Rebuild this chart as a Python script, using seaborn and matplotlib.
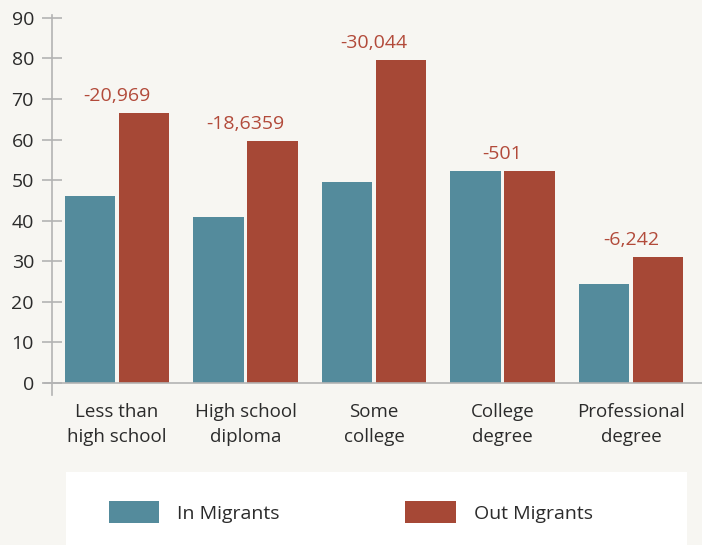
import matplotlib
matplotlib.use("Agg")
import matplotlib.pyplot as plt
import seaborn as sns
import pandas as pd
from matplotlib.patches import Rectangle

# --- data -------------------------------------------------------------
categories = ["Less than\nhigh school", "High school\ndiploma", "Some\ncollege",
              "College\ndegree", "Professional\ndegree"]
in_migrants = [46.0, 41.0, 49.6, 52.3, 24.5]
out_migrants = [66.6, 59.7, 79.5, 52.3, 31.0]
net_labels = ["-20,969", "-18,6359", "-30,044", "-501", "-6,242"]
series_names = ["In Migrants", "Out Migrants"]
y_ticks = [0, 10, 20, 30, 40, 50, 60, 70, 80, 90]

# --- style ------------------------------------------------------------
bg = "#F7F6F2"
teal = "#548B9C"
brick = "#A64836"
label_red = "#B24A3A"
text_dark = "#2B2B2B"
axis_grey = "#B3B3B3"

sns.set_theme(style="white")
plt.rcParams["font.family"] = ["Open Sans", "DejaVu Sans"]

df = pd.DataFrame({
    "category": categories * 2,
    "value": in_migrants + out_migrants,
    "series": [series_names[0]] * len(categories) + [series_names[1]] * len(categories),
})

fig = plt.figure(figsize=(7.02, 5.45), dpi=100, facecolor=bg)
ax = fig.add_axes([52 / 702, 1 - 395 / 545, 1 - 52 / 702, (395 - 15) / 545])
ax.set_facecolor(bg)

sns.barplot(data=df, x="category", y="value", hue="series",
            palette=[teal, brick], width=0.84, gap=0.06, linewidth=0,
            saturation=1, ax=ax, order=categories, hue_order=series_names)

ax.set_xlim(-0.506, 4.553)
ax.set_ylim(-2.96, 90.7)
ax.set_yticks(y_ticks)
ax.set_xlabel("")
ax.set_ylabel("")

for side in ["top", "right", "bottom"]:
    ax.spines[side].set_visible(False)
ax.spines["left"].set_color(axis_grey)
ax.spines["left"].set_linewidth(1.2)

# baseline at zero, poking slightly left of the y axis
ax.plot([-0.012, 1.0], [0, 0], transform=ax.get_yaxis_transform(),
        color=axis_grey, lw=1.2, clip_on=False, zorder=3)

ax.tick_params(axis="y", left=True, direction="inout", length=14, width=1.2,
               color=axis_grey, pad=6, labelsize=14, labelcolor=text_dark)
ax.tick_params(axis="x", length=0, pad=6, labelsize=13.5, labelcolor=text_dark)
for t in ax.get_xticklabels():
    t.set_linespacing(1.45)

# net migration labels above each pair
for i, lab in enumerate(net_labels):
    top = max(in_migrants[i], out_migrants[i])
    ax.text(i, top + 2.0, lab, ha="center", va="bottom",
            fontsize=14, color=label_red)

# legend on a white panel along the bottom
handles, labels = ax.get_legend_handles_labels()
ax.get_legend().remove()
fig.patches.append(Rectangle((66 / 702, 0), (687 - 66) / 702, (545 - 472) / 545,
                             transform=fig.transFigure, facecolor="white",
                             edgecolor="none", zorder=0))
fig.legend(handles, labels, loc="center left",
           bbox_to_anchor=(91 / 702, 1 - 512 / 545), ncol=2, frameon=False,
           fontsize=14, handlelength=2.6, handleheight=1.3,
           handletextpad=0.9, columnspacing=6.5, labelcolor=text_dark)

fig.savefig("out.png", dpi=100, facecolor=bg)
